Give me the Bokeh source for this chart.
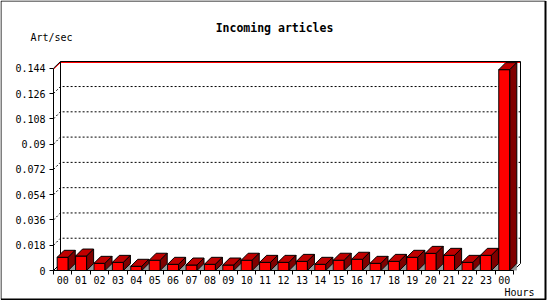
from bokeh.plotting import figure
from bokeh.models import FixedTicker, Range1d
from bokeh.core.properties import value
from bokeh.embed import file_html
from bokeh.resources import INLINE

# ---------------- data ----------------
hours = ["00", "01", "02", "03", "04", "05", "06", "07", "08", "09", "10", "11",
         "12", "13", "14", "15", "16", "17", "18", "19", "20", "21", "22", "23", "00"]
rates = [0.0094, 0.0103, 0.0051, 0.0058, 0.0030, 0.0073, 0.0044, 0.0039, 0.0044,
         0.0039, 0.0073, 0.0058, 0.0058, 0.0065, 0.0044, 0.0073, 0.0080, 0.0051,
         0.0065, 0.0094, 0.0122, 0.0108, 0.0058, 0.0108, 0.1430]
y_ticks = [0, 0.018, 0.036, 0.054, 0.072, 0.09, 0.108, 0.126, 0.144]
y_tick_labels = ["0", "0.018", "0.036", "0.054", "0.072", "0.09", "0.108", "0.126", "0.144"]
title_text = "Incoming articles"
y_title = "Art/sec"
x_title = "Hours"

# ---------------- geometry ----------------
W, H = 550, 300
AXIS_X_PX, AXIS_Y_PX = 53, 270      # where the value axis and hour axis sit
PX_X = 18.4                         # pixels per hour slot
PX_Y = 25.28 / 0.018                # pixels per unit of rate
X_START = -0.5 - AXIS_X_PX / PX_X
Y_START = -(H - AXIS_Y_PX) / PX_Y


def dx_of(px):
    return X_START + px / PX_X


def dy_of(py):
    return Y_START + (H - py) / PX_Y


DX = 7 / PX_X
DY = 7 / PX_Y
n = len(rates)
HALF = 0.3
MONO = "DejaVu Sans Mono"

p = figure(width=W, height=H, output_backend="svg", toolbar_location=None,
           x_range=Range1d(X_START, X_START + W / PX_X),
           y_range=Range1d(Y_START, Y_START + H / PX_Y),
           min_border=0, min_border_left=0, min_border_right=0,
           min_border_top=0, min_border_bottom=0)
p.outline_line_color = None
p.xgrid.visible = False
p.ygrid.visible = False
p.background_fill_color = "white"
p.border_fill_color = "white"

# ---------------- axes ----------------
xa = p.xaxis[0]
xa.fixed_location = 0
xa.ticker = FixedTicker(ticks=list(range(n)), minor_ticks=[i - 0.5 for i in range(n + 1)])
xa.major_label_overrides = {i: h for i, h in enumerate(hours)}
xa.bounds = (-0.5, n - 0.5)
xa.major_tick_out = 0
xa.major_tick_in = 0
xa.minor_tick_out = 4
xa.minor_tick_in = 0
xa.minor_tick_line_color = "black"
xa.axis_line_color = "black"
xa.major_label_standoff = 1
xa.major_label_text_font = MONO
xa.major_label_text_font_size = "10px"
xa.major_label_text_color = "black"

ya = p.yaxis[0]
ya.fixed_location = -0.5
ya.ticker = FixedTicker(ticks=y_ticks, minor_ticks=[])
ya.major_label_overrides = {v: s for v, s in zip(y_ticks, y_tick_labels)}
ya.bounds = (0, y_ticks[-1])
ya.major_tick_out = 4
ya.major_tick_in = 0
ya.minor_tick_out = 0
ya.minor_tick_in = 0
ya.major_tick_line_color = "black"
ya.axis_line_color = "black"
ya.major_label_standoff = 4
ya.major_label_text_font = MONO
ya.major_label_text_font_size = "10px"
ya.major_label_text_color = "black"

# ---------------- picture border ----------------
p.line([dx_of(0.5), dx_of(0.5), dx_of(545)], [dy_of(299), dy_of(0.5), dy_of(0.5)],
       line_color="black", line_width=1)
p.line([dx_of(545), dx_of(545), dx_of(0.5)], [dy_of(0.5), dy_of(299), dy_of(299)],
       line_color="black", line_width=2)

# ---------------- back wall ----------------
ymax = y_ticks[-1]
xl, xr = -0.5, n - 0.5
wall_top = dy_of(61.0)
red_top = dy_of(62.0)
grid_xs, grid_ys = [], []
for v in y_ticks[1:-1]:
    grid_xs.append([xl, xl + DX, xr + DX])
    grid_ys.append([v, v + DY, v + DY])
p.multi_line(grid_xs, grid_ys, line_color="black", line_width=1, line_dash="2 2")

# red line under top edge
p.line([xl, xl + DX, xr + DX], [ymax - 1 / PX_Y, red_top, red_top],
       line_color="red", line_width=1)
# wall outline
p.line([xl, xl + DX, xr + DX, xr + DX], [ymax, wall_top, wall_top, DY],
       line_color="black", line_width=1)
p.line([xl + DX, xl + DX], [DY, wall_top], line_color="black", line_width=1)
p.line([xl, xl + DX], [0, DY], line_color="black", line_width=1)
p.line([xr, xr + DX], [0, DY], line_color="black", line_width=1)

# ---------------- bars ----------------
lefts = [i - HALF for i in range(n)]
rights = [i + HALF for i in range(n)]

sh_xs = [[r, r + DX, r + DX] for r in rights]
sh_ys = [[0, DY, 0] for _ in rights]
p.patches(sh_xs, sh_ys, fill_color="#999999", line_color=None)

p.quad(left=lefts, right=rights, bottom=0, top=rates,
       fill_color="#ff0000", line_color="black", line_width=1)

top_xs = [[l, r, r + DX, l + DX] for l, r in zip(lefts, rights)]
top_ys = [[v, v, v + DY, v + DY] for v in rates]
p.patches(top_xs, top_ys, fill_color="#c00000", line_color="black", line_width=1)

side_xs = [[r, r, r + DX, r + DX] for r in rights]
side_ys = [[0, v, v + DY, DY] for v in rates]
p.patches(side_xs, side_ys, fill_color="#800000", line_color="black", line_width=1)

# ---------------- texts ----------------
p.text(x=[dx_of(274)], y=[dy_of(27)], text=[title_text], text_align="center",
       text_baseline="middle", text_font=value(MONO), text_font_style="bold",
       text_font_size="11.5px", text_color="black")
p.text(x=[dx_of(30)], y=[dy_of(37)], text=[y_title], text_align="left",
       text_baseline="middle", text_font=value(MONO),
       text_font_size="10px", text_color="black")
p.text(x=[dx_of(504)], y=[dy_of(292)], text=[x_title], text_align="left",
       text_baseline="middle", text_font=value(MONO),
       text_font_size="10px", text_color="black")

open("out.html", "w").write(file_html(p, INLINE))
